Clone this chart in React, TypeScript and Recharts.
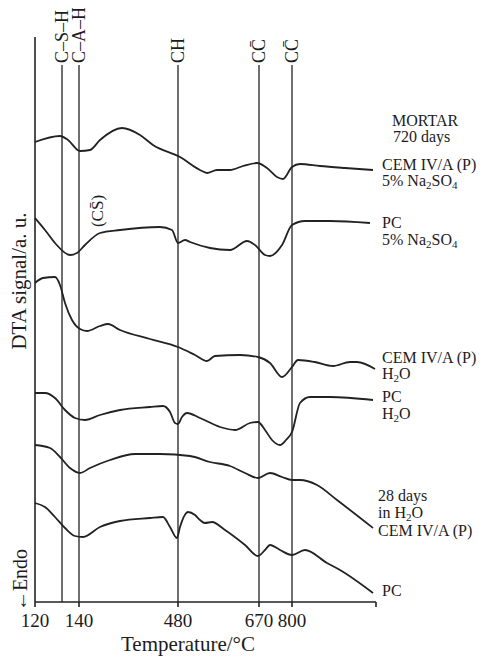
import React from 'react';
import { LineChart, Line, XAxis, YAxis, ReferenceLine, ReferenceDot, LabelList } from 'recharts';

// x is the position along the (non-linear) temperature axis, y is the DTA signal in a.u.
const tickPositions = [0, 44, 143, 224, 257, 341];
const tickLabels = ['120', '140', '480', '670', '800', ''];

const peakPositions = [27, 44, 143, 224, 257];
const peakLabels = ['C–S–H', 'C–A–H', 'CH', 'CC̄', 'CC̄'];

const cemSulfateX = [0, 25, 33, 45, 55, 65, 87, 105, 118, 145, 165, 172, 182, 195, 208, 222, 232, 242, 248, 257, 265, 285, 310, 338];
const cemSulfateY = [460, 466, 462, 451, 452, 462, 474, 467, 457, 445, 432, 429, 432, 432, 436, 439, 434, 425, 423, 435, 438, 436, 434, 432];

const pcSulfateX = [0, 10, 20, 35, 42, 50, 65, 85, 125, 137, 143, 150, 155, 175, 195, 212, 220, 230, 235, 247, 257, 270, 295, 335];
const pcSulfateY = [384, 372, 359, 347, 349, 357, 369, 372, 375, 372, 359, 362, 360, 354, 352, 361, 357, 347, 346, 357, 377, 381, 381, 379];

const cemWaterX = [0, 8, 20, 25, 30, 37, 45, 52, 65, 73, 85, 115, 143, 160, 172, 180, 205, 223, 235, 247, 257, 263, 280, 298, 315, 322, 340];
const cemWaterY = [319, 324, 325, 317, 299, 282, 273, 271, 276, 278, 272, 263, 255, 247, 241, 246, 247, 245, 239, 225, 235, 242, 240, 236, 240, 240, 233];

const pcWaterX = [0, 10, 20, 30, 40, 50, 65, 85, 115, 128, 135, 140, 143, 147, 152, 165, 185, 200, 215, 223, 230, 237, 245, 251, 257, 265, 275, 295, 338];
const pcWaterY = [209, 209, 204, 192, 184, 182, 187, 192, 195, 196, 190, 179, 178, 185, 189, 184, 175, 172, 179, 180, 172, 162, 157, 162, 170, 199, 205, 205, 202];

const cem28X = [0, 15, 25, 35, 45, 55, 75, 100, 125, 155, 175, 195, 210, 223, 235, 247, 257, 265, 282, 302, 338];
const cem28Y = [157, 154, 145, 134, 129, 134, 142, 148, 148, 146, 140, 136, 129, 124, 129, 125, 122, 122, 117, 102, 74];

const pc28X = [0, 10, 20, 30, 40, 48, 65, 85, 115, 128, 135, 142, 145, 153, 160, 165, 170, 177, 190, 210, 223, 230, 235, 245, 257, 270, 292, 305, 338];
const pc28Y = [99, 95, 85, 74, 66, 65, 75, 81, 84, 85, 75, 64, 75, 90, 87, 82, 79, 80, 72, 57, 46, 52, 57, 52, 47, 52, 39, 32, 9];

const seriesNotes = [
  ['MORTAR', '720 days', 'CEM IV/A (P)', '5% Na_2SO_4'],
  ['PC', '5% Na_2SO_4'],
  ['CEM IV/A (P)', 'H_2O'],
  ['PC', 'H_2O'],
  ['28 days', 'in H_2O', 'CEM IV/A (P)'],
  ['PC'],
];

// offsets of each note line from the end of its curve
const noteOffsets = [
  [[19, -44], [20, -28], [9, 0], [9, 16]],
  [[12, 5], [12, 22]],
  [[7, -6], [7, 10]],
  [[9, 2], [9, 19]],
  [[5, -27], [5, -10], [5, 8]],
  [[9, 3]],
];

const zip = (xs: number[], ys: number[]) => xs.map((x, i) => ({ x, y: ys[i] }));

const series = [
  zip(cemSulfateX, cemSulfateY),
  zip(pcSulfateX, pcSulfateY),
  zip(cemWaterX, cemWaterY),
  zip(pcWaterX, pcWaterY),
  zip(cem28X, cem28Y),
  zip(pc28X, pc28Y),
];

const FONT = '"Liberation Serif", "Times New Roman", serif';
const INK = '#1c1c1c';

const richText = (text: string) => {
  const parts = text.split(/(_\d)/).filter(Boolean);
  let shifted = false;
  return parts.map((p, i) => {
    if (p.startsWith('_')) {
      shifted = true;
      return <tspan key={i} dy={3} fontSize={11}>{p.slice(1)}</tspan>;
    }
    const dy = shifted ? -3 : 0;
    shifted = false;
    return <tspan key={i} dy={dy}>{p}</tspan>;
  });
};

const makeNote = (idx: number, last: number) => (props: any) => {
  if (props.index !== last) return null;
  const { x, y } = props;
  return (
    <g>
      {seriesNotes[idx].map((line, j) => (
        <text key={j} x={x + noteOffsets[idx][j][0]} y={y + noteOffsets[idx][j][1]} fontSize={16} fontFamily={FONT} fill={INK}>
          {richText(line)}
        </text>
      ))}
    </g>
  );
};

const PeakLabel = (props: any) => {
  const { x, y } = props.viewBox;
  const ty = y - 2;
  return (
    <text x={x} y={ty} dy="0.35em" transform={`rotate(-90 ${x} ${ty})`} fontSize={18} fontFamily={FONT} fill={INK}>
      {props.value}
    </text>
  );
};

const SulfateLabel = (props: any) => {
  const { x, y, width, height } = props.viewBox;
  const cx = x + width / 2;
  const cy = y + height / 2;
  return (
    <text x={cx} y={cy} dy="0.35em" textAnchor="middle" transform={`rotate(-90 ${cx} ${cy})`} fontSize={17} fontFamily={FONT} fill={INK}>
      (CS̄)
    </text>
  );
};

const YTitle = (props: any) => {
  const { x, y } = props.viewBox;
  return (
    <g fontFamily={FONT} fill={INK}>
      <text x={x + 11} y={y + 244} dy="0.35em" textAnchor="middle" transform={`rotate(-90 ${x + 11} ${y + 244})`} fontSize={21}>
        DTA signal/a. u.
      </text>
      <text x={x + 12} y={y + 543} dy="0.35em" textAnchor="middle" transform={`rotate(-90 ${x + 12} ${y + 543})`} fontSize={20}>
        ←Endo
      </text>
    </g>
  );
};

const XTitle = (props: any) => {
  const { x, y } = props.viewBox;
  return (
    <text x={x + 153} y={y + 49} textAnchor="middle" fontSize={21} fontFamily={FONT} fill={INK}>
      Temperature/°C
    </text>
  );
};

export default function App() {
  return (
    <LineChart width={487} height={649} margin={{ top: 29, right: 119, bottom: 0, left: 0 }}>
      <XAxis
        dataKey="x"
        type="number"
        domain={[0, 341]}
        ticks={tickPositions}
        interval={0}
        tickFormatter={(v: number) => tickLabels[tickPositions.indexOf(v)]}
        tickSize={5}
        tickMargin={7}
        tick={{ fill: INK, fontSize: 19, fontFamily: FONT }}
        axisLine={{ stroke: '#222', strokeWidth: 1.6 }}
        tickLine={{ stroke: '#222', strokeWidth: 1.6 }}
        height={55}
        label={{ content: XTitle }}
      />
      <YAxis
        type="number"
        domain={[0, 565]}
        width={27}
        tick={false}
        tickLine={false}
        axisLine={{ stroke: '#222', strokeWidth: 1.6 }}
        label={{ content: YTitle }}
      />
      {peakPositions.map((p, i) => (
        <ReferenceLine
          key={i}
          segment={[{ x: p, y: 0 }, { x: p, y: 537 }]}
          stroke="#333"
          strokeWidth={1.4}
          label={{ value: peakLabels[i], content: PeakLabel }}
        />
      ))}
      <ReferenceDot x={62} y={391} r={0} stroke="none" fill="none" label={{ content: SulfateLabel }} />
      {series.map((data, i) => (
        <Line
          key={i}
          data={data}
          dataKey="y"
          type="monotone"
          stroke="#222"
          strokeWidth={1.8}
          dot={false}
          isAnimationActive={false}
        >
          <LabelList dataKey="y" content={makeNote(i, data.length - 1)} />
        </Line>
      ))}
    </LineChart>
  );
}
